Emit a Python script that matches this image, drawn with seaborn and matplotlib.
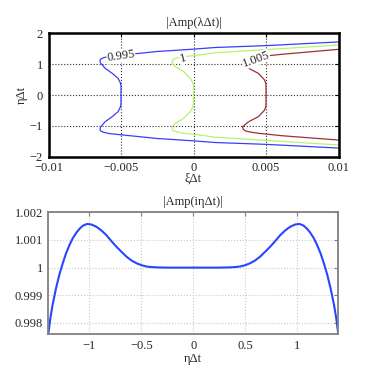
import matplotlib
matplotlib.use("Agg")
import matplotlib.pyplot as plt
import seaborn as sns

# --- contour lines of |Amp(lambda dt)| (xi dt, eta dt) ---
blue_xi = [0.010, 0.005, 0.0015, -0.0002, -0.0025, -0.0048, -0.0058, -0.0062, -0.00642, -0.00645,
           -0.0064, -0.0061, -0.0056, -0.0052, -0.00505, -0.0050, -0.0050, -0.0050, -0.00505,
           -0.0052, -0.0056, -0.0061, -0.0064, -0.00645, -0.00642, -0.0062, -0.0058, -0.0048,
           -0.0025, -0.0002, 0.0015, 0.005, 0.010]
blue_eta = [1.72, 1.60, 1.54, 1.48, 1.41, 1.30, 1.25, 1.21, 1.16, 1.09,
            1.03, 0.87, 0.70, 0.54, 0.40, 0.30, 0.0, -0.30, -0.40,
            -0.54, -0.70, -0.87, -1.03, -1.09, -1.16, -1.21, -1.25, -1.30,
            -1.41, -1.48, -1.54, -1.60, -1.72]

green_xi = [0.010, 0.005, 0.0015, 0.00046, -0.00069, -0.0012, -0.00142, -0.00149, -0.00126,
            -0.00069, -0.00023, -0.00005, 0.0, 0.0, 0.0, -0.00005, -0.00023, -0.00069,
            -0.00126, -0.00149, -0.00142, -0.0012, -0.00069, 0.00046, 0.0015, 0.005, 0.010]
green_eta = [1.62, 1.47, 1.37, 1.30, 1.24, 1.19, 1.15, 1.03, 0.92,
             0.76, 0.54, 0.40, 0.27, 0.0, -0.27, -0.40, -0.54, -0.76,
             -0.92, -1.03, -1.15, -1.19, -1.24, -1.30, -1.37, -1.47, -1.62]

red_xi = [0.010, 0.0061, 0.00448, 0.0039, 0.00356, 0.00342, 0.00338, 0.00379, 0.00448, 0.0049,
          0.00498, 0.0050, 0.0050, 0.0050, 0.00498, 0.0049, 0.00448, 0.00379, 0.00338, 0.00342,
          0.00356, 0.0039, 0.00448, 0.0061, 0.010]
red_eta = [1.48, 1.32, 1.24, 1.20, 1.16, 1.10, 1.03, 0.87, 0.70, 0.49,
           0.38, 0.27, 0.0, -0.27, -0.38, -0.49, -0.70, -0.87, -1.03, -1.10,
           -1.16, -1.20, -1.24, -1.32, -1.46]

contour_levels = ["0.995", "1", "1.005"]
contour_colors = ["#3c3cff", "#b4f56e", "#a03030"]
label_pos = [(-0.0050, 1.25, 8), (-0.00071, 1.19, 15), (0.0043, 1.16, 20)]

# --- |Amp(i eta dt)| on the imaginary axis ---
eta_vals = [-1.394, -1.375, -1.353, -1.32, -1.288, -1.255, -1.223, -1.19, -1.159, -1.125,
            -1.095, -1.06, -1.02, -0.98, -0.933, -0.885, -0.837, -0.79, -0.740, -0.69,
            -0.643, -0.595, -0.547, -0.50, -0.450, -0.40, -0.354, -0.25, -0.10, 0.0,
            0.10, 0.25, 0.354, 0.40, 0.450, 0.50, 0.547, 0.595, 0.643, 0.69,
            0.740, 0.79, 0.837, 0.885, 0.933, 0.98, 1.02, 1.06, 1.095, 1.125,
            1.159, 1.19, 1.223, 1.255, 1.288, 1.32, 1.353, 1.375, 1.394]
amp_vals = [0.99759, 0.99815, 0.99865, 0.99925, 0.99974, 1.00016, 1.00052, 1.00082, 1.00106, 1.00126,
            1.00140, 1.00152, 1.00158, 1.00156, 1.00148, 1.00135, 1.00118, 1.00097, 1.00076, 1.00057,
            1.00040, 1.00026, 1.00016, 1.00009, 1.00004, 1.00002, 1.00001, 1.0, 1.0, 1.0,
            1.0, 1.0, 1.00001, 1.00002, 1.00004, 1.00009, 1.00016, 1.00026, 1.00040, 1.00057,
            1.00076, 1.00097, 1.00118, 1.00135, 1.00148, 1.00156, 1.00158, 1.00152, 1.00140, 1.00126,
            1.00106, 1.00082, 1.00052, 1.00016, 0.99974, 0.99925, 0.99865, 0.99815, 0.99759]

top_xticks = [-0.01, -0.005, 0, 0.005, 0.01]
top_xticklabels = ["\u22120.01", "\u22120.005", "0", "0.005", "0.01"]
top_yticks = [-2, -1, 0, 1, 2]
top_yticklabels = ["\u22122", "\u22121", "0", "1", "2"]
bot_xticks = [-1, -0.5, 0, 0.5, 1]
bot_xticklabels = ["\u22121", "\u22120.5", "0", "0.5", "1"]
bot_yticks = [0.998, 0.999, 1.0, 1.001, 1.002]
bot_yticklabels = ["0.998", "0.999", "1", "1.001", "1.002"]

sns.set_style("white")
plt.rcParams["font.family"] = ["Liberation Serif", "DejaVu Serif"]
plt.rcParams["font.size"] = 9

fig = plt.figure(figsize=(3.74, 3.79), dpi=100)

# ---------- top: contours ----------
ax1 = fig.add_axes([48.5 / 374, 1 - 156.7 / 379, 290 / 374, 123.4 / 379])
paths = [(blue_xi, blue_eta), (green_xi, green_eta), (red_xi, red_eta)]
for (xs, ys), col in zip(paths, contour_colors):
    sns.lineplot(x=xs, y=ys, sort=False, estimator=None, color=col, lw=0.9, ax=ax1)
for lab, (lx, ly, rot) in zip(contour_levels, label_pos):
    ax1.text(lx, ly, lab, ha="center", va="center", rotation=rot, fontsize=9,
             bbox=dict(fc="white", ec="none", pad=0.3), zorder=5)

ax1.set_xlim(-0.01, 0.01)
ax1.set_ylim(-2, 2)
ax1.set_xticks(top_xticks)
ax1.set_xticklabels(top_xticklabels)
ax1.set_yticks(top_yticks)
ax1.set_yticklabels(top_yticklabels)
ax1.grid(True, linestyle=":", color="#303030", lw=0.8)
ax1.tick_params(direction="in", top=True, right=True, length=3, width=0.8,
                color="black", labelsize=9, pad=3)
ax1.tick_params(axis="x", pad=4)
ax1.tick_params(axis="y", pad=4)
for sp in ax1.spines.values():
    sp.set_color("black")
    sp.set_linewidth(1.8)
ax1.set_title("|Amp(\u03bb\u0394t)|", fontsize=9, pad=5)
ax1.set_xlabel("\u03be\u0394t", fontsize=9, labelpad=-1)
ax1.set_ylabel("\u03b7\u0394t", fontsize=9, labelpad=1)

# ---------- bottom: imaginary axis ----------
ax2 = fig.add_axes([48.3 / 374, 1 - 334.3 / 379, 290 / 374, 122 / 379])
sns.lineplot(x=eta_vals, y=amp_vals, sort=False, estimator=None, color="#2846ff", lw=1.5, ax=ax2)
ax2.set_xlim(-1.394, 1.394)
ax2.set_ylim(0.99759, 1.002)
ax2.set_xticks(bot_xticks)
ax2.set_xticklabels(bot_xticklabels)
ax2.set_yticks(bot_yticks)
ax2.set_yticklabels(bot_yticklabels)
ax2.grid(True, linestyle=":", color="#c8c8c8", lw=0.8)
ax2.tick_params(direction="in", top=True, right=True, length=3, width=0.8,
                color="#808080", labelsize=9, pad=4)
for sp in ax2.spines.values():
    sp.set_color("#808080")
    sp.set_linewidth(1.3)
ax2.set_title("|Amp(i\u03b7\u0394t)|", fontsize=9, pad=5)
ax2.set_xlabel("\u03b7\u0394t", fontsize=9, labelpad=1)

fig.savefig("out.png", dpi=100, facecolor="white")
